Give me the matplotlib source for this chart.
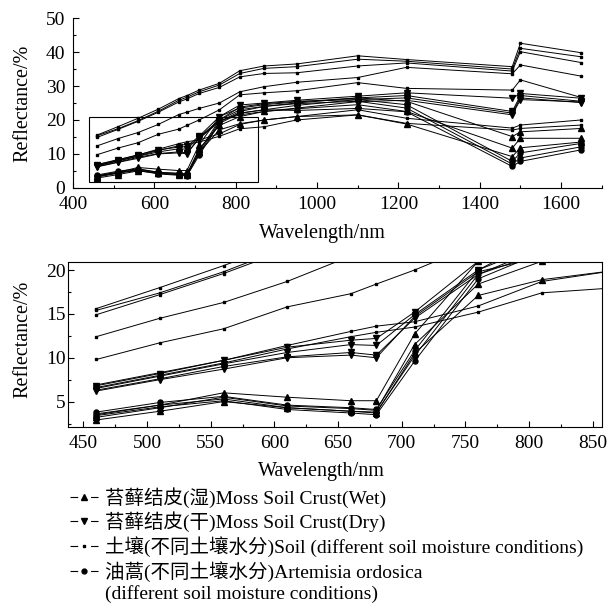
import numpy as np
import matplotlib
matplotlib.use("Agg")
from matplotlib import pyplot as plt
from matplotlib.lines import Line2D
from matplotlib.patches import Rectangle
from matplotlib.ticker import MultipleLocator

plt.rcParams['font.family'] = ['Liberation Serif', 'Noto Sans CJK SC']

# wavelengths (nm)
wl = [460, 510, 560, 610, 660, 680, 710, 760, 810, 870, 950, 1100, 1220, 1480, 1500, 1650]

# soil (different soil moisture)
soil = [
    [15.6, 18.0, 20.5, 23.2, 26.3, 27.2, 28.8, 30.8, 34.5, 35.9, 36.5, 38.9, 37.8, 35.7, 42.6, 39.8],
    [15.4, 17.4, 19.8, 22.6, 25.8, 26.7, 28.3, 30.3, 33.7, 35.2, 35.7, 37.9, 37.3, 35.0, 41.1, 38.6],
    [14.9, 17.2, 19.6, 22.3, 25.3, 26.2, 27.8, 29.6, 32.7, 33.7, 33.9, 35.9, 36.8, 34.4, 40.1, 36.9],
    [12.4, 14.5, 16.3, 18.7, 21.6, 22.3, 23.4, 25.0, 28.3, 29.8, 31.1, 32.5, 35.5, 33.6, 36.2, 32.9],
    [9.8, 11.7, 13.3, 15.8, 17.3, 18.4, 20.0, 23.0, 27.4, 28.0, 28.6, 31.0, 29.3, 28.8, 31.8, 26.6],
    [6.9, 8.3, 9.7, 11.4, 13.0, 13.6, 14.1, 15.9, 18.7, 20.0, 21.0, 23.0, 20.5, 17.6, 18.5, 20.0],
    [6.6, 8.0, 9.4, 11.0, 12.4, 12.9, 13.5, 15.2, 17.4, 18.0, 20.0, 21.5, 19.0, 17.0, 17.5, 18.5],
]

# moss soil crust, wet
moss_wet = [
    [3.5, 4.6, 6.0, 5.5, 5.1, 5.1, 12.7, 21.0, 23.5, 24.5, 25.3, 26.5, 25.5, 15.1, 16.5, 17.5],
    [3.2, 4.3, 5.5, 4.5, 4.2, 4.0, 11.5, 18.4, 21.0, 22.5, 23.3, 24.5, 22.5, 11.7, 14.6, 14.6],
    [2.9, 3.9, 5.0, 4.3, 3.9, 3.7, 10.5, 17.1, 18.9, 20.0, 21.0, 21.5, 18.8, 9.2, 11.8, 13.5],
]

# moss soil crust, dry
moss_dry = [
    [6.8, 8.2, 9.7, 11.2, 12.0, 12.2, 15.2, 21.0, 24.4, 25.0, 25.8, 27.0, 28.0, 26.4, 27.8, 26.4],
    [6.5, 7.9, 9.3, 10.6, 11.5, 11.4, 14.9, 20.0, 23.0, 24.0, 25.0, 26.5, 27.2, 22.5, 27.2, 25.5],
    [6.3, 7.6, 9.0, 10.1, 10.6, 10.3, 14.5, 19.5, 22.0, 23.0, 24.3, 26.0, 26.5, 22.0, 26.5, 25.1],
    [6.2, 7.5, 8.7, 10.0, 10.3, 10.0, 14.7, 19.8, 21.5, 22.5, 23.5, 25.4, 25.8, 21.5, 26.0, 25.3],
]

# Artemisia ordosica
artemisia = [
    [3.8, 4.9, 5.6, 4.6, 4.3, 4.1, 10.8, 20.0, 23.8, 24.8, 25.5, 26.0, 24.5, 7.8, 10.3, 13.1],
    [3.6, 4.6, 5.3, 4.3, 3.9, 3.8, 10.2, 19.5, 22.5, 24.0, 24.8, 25.5, 23.5, 7.0, 8.8, 12.1],
    [3.4, 4.4, 5.1, 4.1, 3.7, 3.5, 9.6, 19.0, 22.0, 23.0, 22.8, 23.4, 22.4, 6.3, 7.8, 11.2],
]

labels = ["苔藓结皮(湿)Moss Soil Crust(Wet)",
          "苔藓结皮(干)Moss Soil Crust(Dry)",
          "土壤(不同土壤水分)Soil (different soil moisture conditions)",
          "油蒿(不同土壤水分)Artemisia ordosica",
          "(different soil moisture conditions)"]

styles = [
    (moss_wet, dict(marker='^', ms=4.2)),
    (moss_dry, dict(marker='v', ms=4.2)),
    (soil, dict(marker='s', ms=1.6)),
    (artemisia, dict(marker='o', ms=3.6)),
]

fig = plt.figure(figsize=(6.14, 6.04), dpi=100)
ax1 = fig.add_axes([0.119, 0.689, 0.861, 0.281])
ax2 = fig.add_axes([0.111, 0.293, 0.869, 0.273])


def draw(ax):
    for group, st in styles:
        for ys in group:
            ax.plot(wl, ys, color='black', lw=0.7, **st)


draw(ax1)
ax1.set_xlim(400, 1700)
ax1.set_ylim(0, 50)
ax1.xaxis.set_major_locator(MultipleLocator(200))
ax1.xaxis.set_minor_locator(MultipleLocator(100))
ax1.yaxis.set_major_locator(MultipleLocator(10))
ax1.yaxis.set_minor_locator(MultipleLocator(5))
ax1.spines['top'].set_visible(False)
ax1.spines['right'].set_visible(False)
ax1.add_patch(Rectangle((440, 1.8), 415, 19.0, fill=False, lw=0.8, ec='black'))
ax1.tick_params(axis='y', pad=5.5)

draw(ax2)
ax2.set_xlim(438, 857)
ax2.set_ylim(2.1, 20.9)
ax2.xaxis.set_major_locator(MultipleLocator(50))
ax2.xaxis.set_minor_locator(MultipleLocator(25))
ax2.yaxis.set_major_locator(MultipleLocator(5))
ax2.yaxis.set_minor_locator(MultipleLocator(2.5))
ax2.tick_params(axis='y', pad=2)

for ax in (ax1, ax2):
    ax.tick_params(which='both', direction='in', labelsize=14, width=0.8)
    ax.tick_params(axis='x', pad=6)
    ax.tick_params(which='major', length=4)
    ax.tick_params(which='minor', length=2.5)
    ax.set_xlabel("Wavelength/nm", fontsize=14.5)
    ax.set_ylabel("Reflectance/%", fontsize=14.5)
    for s in ax.spines.values():
        s.set_linewidth(0.8)

ax1.xaxis.set_label_coords(0.472, -0.212)
ax1.yaxis.set_label_coords(-0.0775, 0.5)
ax2.xaxis.set_label_coords(0.475, -0.212)
ax2.yaxis.set_label_coords(-0.0674, 0.53)

dash = (0, (6.9, 11.6))
handles = [
    Line2D([], [], color='black', lw=0.8, ls=dash, marker='^', ms=4),
    Line2D([], [], color='black', lw=0.8, ls=dash, marker='v', ms=4),
    Line2D([], [], color='black', lw=0.8, ls=dash, marker='s', ms=1.6),
    Line2D([], [], color='black', lw=0.8, ls=dash, marker='o', ms=3.5),
    Line2D([], [], color='none'),
]
fig.legend(handles, labels, loc='upper left', bbox_to_anchor=(0.114, 0.194),
           frameon=False, fontsize=14, handlelength=1.45, handletextpad=0.36,
           labelspacing=0.2, borderaxespad=0, borderpad=0)

fig.savefig("out.png", dpi=100)
